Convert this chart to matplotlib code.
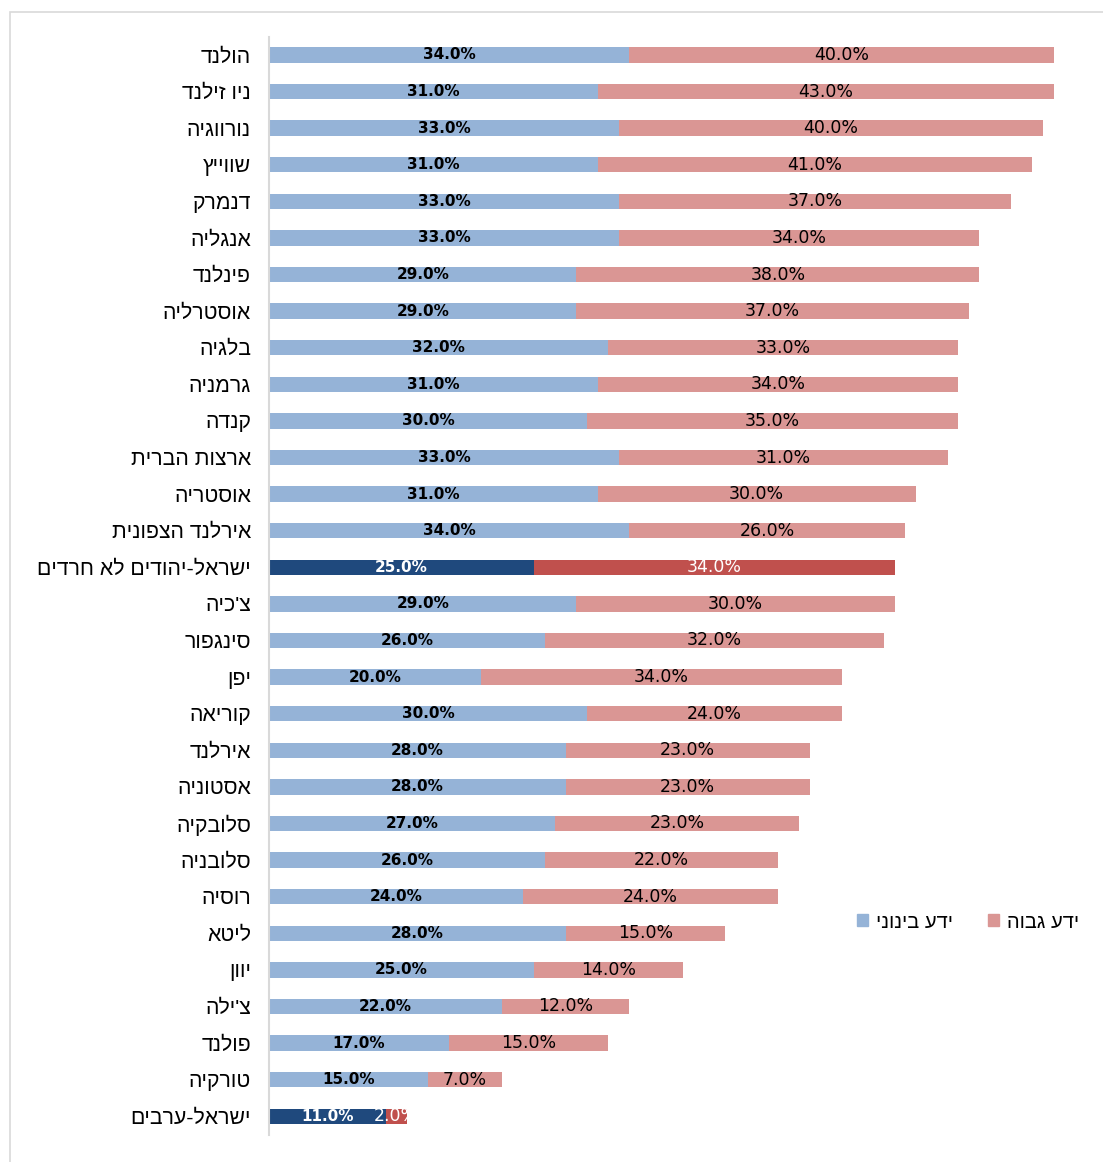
import matplotlib
matplotlib.use("Agg")
import matplotlib.pyplot as plt
from matplotlib.patches import Rectangle, Patch

categories = ["הולנד", "ניו זילנד", "נורווגיה", "שווייץ", "דנמרק", "אנגליה", "פינלנד",
              "אוסטרליה", "בלגיה", "גרמניה", "קנדה", "ארצות הברית", "אוסטריה",
              "אירלנד הצפונית", "ישראל-יהודים לא חרדים", "צ'כיה", "סינגפור", "יפן",
              "קוריאה", "אירלנד", "אסטוניה", "סלובקיה", "סלובניה", "רוסיה", "ליטא",
              "יוון", "צ'ילה", "פולנד", "טורקיה", "ישראל-ערבים"]
medium = [34, 31, 33, 31, 33, 33, 29, 29, 32, 31, 30, 33, 31, 34, 25, 29, 26, 20,
          30, 28, 28, 27, 26, 24, 28, 25, 22, 17, 15, 11]
high = [40, 43, 40, 41, 37, 34, 38, 37, 33, 34, 35, 31, 30, 26, 34, 30, 32, 34,
        24, 23, 23, 23, 22, 24, 15, 14, 12, 15, 7, 2]
highlight = ["ישראל-יהודים לא חרדים", "ישראל-ערבים"]
legend_labels = ["ידע בינוני", "ידע גבוה"]

def vis(s):
    return s[::-1]

C_MED, C_HIGH = "#95B3D7", "#DA9694"
C_MED_D, C_HIGH_D = "#1F497D", "#C0504D"

fig = plt.figure(figsize=(11.03, 11.62), dpi=100)
W, H = 1103, 1162
ax = fig.add_axes([269 / W, 1 - 1134.5 / H, (1096 - 269) / W, (1134.5 - 36.7) / H])

fam = ["Liberation Sans", "DejaVu Sans"]
ys = list(range(len(categories)))
for i, cat in enumerate(categories):
    hl = cat in highlight
    cm = C_MED_D if hl else C_MED
    ch = C_HIGH_D if hl else C_HIGH
    ax.barh(i, medium[i], height=0.42, color=cm, left=0)
    ax.barh(i, high[i], height=0.42, color=ch, left=medium[i])
    tc = "white" if hl else "black"
    ax.text(medium[i] / 2, i, f"{medium[i]:.1f}%", ha="center", va="center",
            fontsize=11, fontweight="bold", color=tc, family="DejaVu Sans")
    ax.text(medium[i] + high[i] / 2, i, f"{high[i]:.1f}%", ha="center", va="center",
            fontsize=12.5, color=tc, family="DejaVu Sans")

ax.set_ylim(len(categories) - 0.5, -0.5)
ax.set_xlim(0, 78)
ax.set_yticks(ys)
ax.set_yticklabels([vis(c) for c in categories], fontsize=15.3, family=fam)
ax.tick_params(axis="y", length=0, pad=13)
ax.set_xticks([])
for s in ["top", "right", "bottom"]:
    ax.spines[s].set_visible(False)
ax.spines["left"].set_color("#D9D9D9")
ax.spines["left"].set_linewidth(1.5)

handles = [Patch(color=C_MED), Patch(color=C_HIGH)]
fig.legend(handles, [vis(l) for l in legend_labels], ncol=2, frameon=False,
           loc="center", bbox_to_anchor=(968 / W, 1 - 922 / H),
           prop={"family": fam, "size": 14.5}, handlelength=0.55, handleheight=0.55,
           handletextpad=0.4, columnspacing=1.7)

fig.patches.append(Rectangle((10 / W, -0.01), 1.0, 1 - 12 / H + 0.01,
                             transform=fig.transFigure, fill=False,
                             edgecolor="#D9D9D9", linewidth=1.2))

fig.savefig("out.png", dpi=100)
